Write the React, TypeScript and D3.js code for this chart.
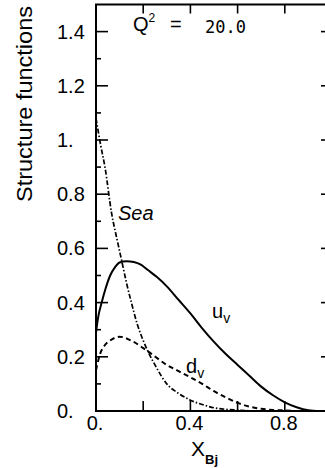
import React from "react";
import * as d3 from "d3";

// Valence and sea quark distributions at Q^2 = 20
const uvX = [0, 0.01, 0.024, 0.04, 0.06, 0.08, 0.1, 0.13, 0.16, 0.19, 0.22, 0.257, 0.3, 0.35, 0.4, 0.45, 0.5, 0.55, 0.6, 0.65, 0.7, 0.75, 0.8, 0.85, 0.9, 0.95];
const uvY = [0.29, 0.35, 0.4, 0.45, 0.5, 0.53, 0.548, 0.553, 0.55, 0.54, 0.52, 0.495, 0.46, 0.41, 0.36, 0.305, 0.255, 0.21, 0.17, 0.13, 0.09, 0.058, 0.032, 0.014, 0.003, 0];

const dvX = [0, 0.017, 0.035, 0.06, 0.1, 0.157, 0.22, 0.3, 0.35, 0.4, 0.45, 0.5, 0.55, 0.6, 0.65, 0.7, 0.75, 0.8, 0.85];
const dvY = [0.15, 0.21, 0.24, 0.26, 0.274, 0.256, 0.22, 0.17, 0.147, 0.124, 0.1, 0.073, 0.05, 0.03, 0.016, 0.008, 0.004, 0.002, 0];

const seaX = [0, 0.02, 0.038, 0.066, 0.09, 0.11, 0.13, 0.15, 0.175, 0.2, 0.22, 0.25, 0.3, 0.35, 0.4, 0.45, 0.5, 0.6, 0.7];
const seaY = [1.08, 0.98, 0.9, 0.73, 0.63, 0.55, 0.47, 0.4, 0.32, 0.26, 0.22, 0.17, 0.1, 0.065, 0.04, 0.024, 0.012, 0.003, 0];

const yTickVals = [0, 0.2, 0.4, 0.6, 0.8, 1.0, 1.2, 1.4];
const yTickLabels = ["0.", "0.2", "0.4", "0.6", "0.8", "1.", "1.2", "1.4"];
const yMinorVals = [0.1, 0.3, 0.5, 0.7, 0.9, 1.1, 1.3];
const xTickVals = [0.2, 0.4, 0.6, 0.8];
const xLabelVals = [0, 0.4, 0.8];
const xLabels = ["0.", "0.4", "0.8"];

const W = 325;
const H = 468;
const left = 96;
const right = 332;
const top = 4.5;
const bottom = 411;

const FONT = "'Liberation Sans', Arial, Helvetica, sans-serif";

export default function App() {
  const x = d3.scaleLinear().domain([0, 1]).range([left, right]);
  const y = d3.scaleLinear().domain([0, 1.5]).range([bottom, top]);

  const mk = (xs: number[], ys: number[]) =>
    d3
      .line<number>()
      .x((_, i) => x(xs[i]))
      .y((_, i) => y(ys[i]))
      .curve(d3.curveMonotoneX)(xs.map((_, i) => i)) || "";

  return (
    <svg
      width={W}
      height={H}
      style={{ position: "absolute", left: 0, top: 0, background: "#fff" }}
      fontFamily={FONT}
    >
      <rect x={0} y={0} width={W} height={H} fill="#fff" />

      {/* frame */}
      <g stroke="#000" strokeWidth={2} fill="none">
        <line x1={left} y1={top} x2={left} y2={bottom + 1} />
        <line x1={left - 1} y1={bottom} x2={right} y2={bottom} />
        <line x1={left - 1} y1={top} x2={right} y2={top} />
        <line x1={right} y1={top} x2={right} y2={bottom} />
      </g>

      {/* ticks on all four sides */}
      <g stroke="#000" strokeWidth={1.6}>
        {yTickVals.map((v) => (
          <g key={"yt" + v}>
            <line x1={left} x2={left + 12} y1={y(v)} y2={y(v)} />
            <line x1={right} x2={right - 11} y1={y(v)} y2={y(v)} />
          </g>
        ))}
        {yMinorVals.map((v) => (
          <line key={"ym" + v} x1={left} x2={left + 5} y1={y(v)} y2={y(v)} />
        ))}
        {xTickVals.map((v) => (
          <g key={"xt" + v}>
            <line x1={x(v)} x2={x(v)} y1={bottom} y2={bottom - 10} />
            <line x1={x(v)} x2={x(v)} y1={top} y2={top + 9} />
          </g>
        ))}
      </g>

      {/* tick labels */}
      <g fontSize={20} fill="#000">
        {yTickVals.map((v, i) => (
          <text key={"yl" + v} x={57} y={y(v) + 7}>
            {yTickLabels[i]}
          </text>
        ))}
        {xLabelVals.map((v, i) => (
          <text key={"xl" + v} x={x(v) - 1} y={430} textAnchor="middle">
            {xLabels[i]}
          </text>
        ))}
      </g>

      {/* axis titles */}
      <text
        transform="translate(32,104) rotate(-90)"
        textAnchor="middle"
        fontSize={22}
        fill="#000"
        textLength={196}
        lengthAdjust="spacingAndGlyphs"
      >
        Structure functions
      </text>
      <text x={191} y={456} fontSize={21} fill="#000">
        X
        <tspan fontSize={13} fontWeight="bold" dy={8}>
          Bj
        </tspan>
      </text>

      {/* curves */}
      <path d={mk(uvX, uvY)} fill="none" stroke="#000" strokeWidth={2} />
      <path
        d={mk(dvX, dvY)}
        fill="none"
        stroke="#000"
        strokeWidth={2}
        strokeDasharray="5 3.5"
      />
      <path
        d={mk(seaX, seaY)}
        fill="none"
        stroke="#000"
        strokeWidth={1.7}
        strokeDasharray="5 2 1.5 2"
      />

      {/* curve labels */}
      <text x={118} y={220} fontSize={20} fontStyle="italic" fill="#000">
        Sea
      </text>
      <text x={212} y={318} fontSize={20} fill="#000">
        u
        <tspan fontSize={14} dy={5}>
          v
        </tspan>
      </text>
      <text x={186} y={373} fontSize={20} fill="#000">
        d
        <tspan fontSize={14} dy={5}>
          v
        </tspan>
      </text>

      {/* Q^2 annotation */}
      <text x={133} y={31} fontSize={20} fill="#000">
        Q
        <tspan fontSize={12} dy={-9}>
          2
        </tspan>
      </text>
      <text x={170} y={31} fontSize={20} fill="#000">
        =
      </text>
      <text x={205} y={33} fontSize={17} fontFamily="'DejaVu Sans Mono', monospace" fill="#000">
        20.0
      </text>
    </svg>
  );
}
